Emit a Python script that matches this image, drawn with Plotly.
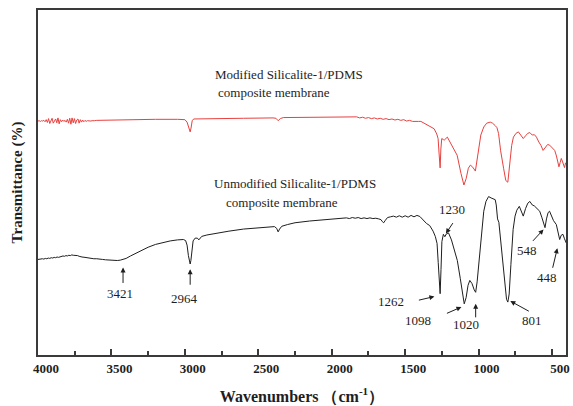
import plotly.graph_objects as go

# FTIR spectra of the two Silicalite-1/PDMS composite membranes
# (wavenumber in cm-1, transmittance in arbitrary offset units)

modified_wn = [
    4000, 3992, 3984, 3976, 3968, 3960, 3952, 3944, 3936, 3928, 3920, 3912, 3904, 3896,
    3888, 3880, 3872, 3864, 3856, 3848, 3840, 3832, 3824, 3816, 3808, 3800, 3792, 3784,
    3776, 3768, 3760, 3752, 3744, 3736, 3728, 3720, 3712, 3704, 3696, 3688, 3680, 3672,
    3664, 3656, 3648, 3640, 3632, 3624, 3616, 3600, 3500, 3400, 3200, 3050, 3000, 2985,
    2975, 2968, 2964, 2958, 2950, 2940, 2900, 2800, 2600, 2400, 2380, 2365, 2350, 2330,
    2200, 2000, 1900, 1850, 1830, 1810, 1790, 1770, 1750, 1730, 1710, 1690, 1670, 1650,
    1630, 1610, 1590, 1570, 1550, 1530, 1510, 1490, 1470, 1450, 1430, 1410, 1393, 1370,
    1340, 1303, 1285, 1276, 1268, 1262, 1257, 1251, 1240, 1235, 1213, 1180, 1146, 1120,
    1100, 1085, 1070, 1056, 1040, 1022, 1005, 985, 965, 945, 921, 905, 887, 875, 864,
    850, 830, 815, 801, 790, 775, 763, 745, 729, 715, 696, 680, 665, 651, 635, 620, 606,
    590, 575, 561, 545, 530, 516, 500, 482, 470, 453, 445, 437, 428, 415, 408, 400,
]
modified_t = [
    68.5, 68.6, 68.4, 68.6, 68.5, 68.7, 68.3, 68.9, 68.1, 69.2, 67.8, 68.7, 69.3, 67.9,
    68.4, 69.1, 68.0, 69.4, 67.7, 68.9, 68.3, 68.8, 68.4, 68.7, 68.2, 69.0, 67.9, 69.3,
    67.6, 69.4, 68.0, 69.2, 67.8, 68.8, 69.1, 67.9, 68.9, 68.2, 68.8, 68.3, 68.7, 68.4,
    68.6, 68.5, 68.6, 68.5, 68.6, 68.5, 68.6, 68.7, 68.8, 68.9, 69.0, 69.0, 68.9, 68.2,
    66.6, 65.6, 65.4, 66.5, 68.6, 69.1, 69.1, 69.2, 69.3, 69.4, 69.3, 68.6, 69.2, 69.5,
    69.5, 69.6, 69.6, 69.5, 69.7, 69.4, 69.6, 69.3, 69.5, 69.2, 69.4, 69.1, 69.3, 69.0,
    69.2, 68.9, 69.1, 68.8, 69.0, 68.7, 68.9, 68.5, 68.7, 68.4, 68.5, 68.4, 68.4, 67.9,
    67.2, 66.3, 64.8, 63.5, 58.5, 55.1, 60.5, 63.5, 63.2, 63.0, 63.9, 61.5, 58.7, 53.5,
    50.2, 52.0, 55.0, 55.9, 55.3, 54.2, 59.0, 64.5, 66.8, 67.9, 68.2, 67.9, 67.2, 66.6, 64.9,
    60.0, 55.0, 51.5, 51.0, 55.5, 61.5, 63.9, 65.0, 65.4, 64.5, 63.5, 64.3, 65.0, 65.2, 64.5, 64.6, 63.9,
    62.5, 61.5, 60.1, 60.9, 61.8, 61.6, 61.0, 60.1, 58.5, 55.4, 56.6, 57.8, 56.8, 55.2, 56.5, 56.4,
]

unmodified_wn = [
    4000, 3990, 3980, 3970, 3960, 3950, 3940, 3930, 3920, 3910, 3900, 3890, 3880, 3870,
    3860, 3850, 3840, 3830, 3820, 3810, 3800, 3790, 3780, 3770, 3760, 3750, 3740, 3730,
    3720, 3710, 3700, 3680, 3660, 3640, 3620, 3600, 3580, 3560, 3540, 3520, 3500, 3480,
    3460, 3440, 3421, 3400, 3370, 3330, 3290, 3250, 3200, 3150, 3100, 3050, 3010, 2995,
    2985, 2976, 2969, 2964, 2959, 2952, 2944, 2930, 2915, 2905, 2897, 2885, 2850, 2800,
    2700, 2600, 2500, 2420, 2390, 2375, 2365, 2355, 2340, 2300, 2250, 2150, 2050, 1950,
    1900, 1880, 1860, 1840, 1820, 1800, 1780, 1760, 1740, 1720, 1700, 1680, 1665, 1655,
    1646, 1635, 1620, 1600, 1580, 1560, 1540, 1520, 1500, 1480, 1460, 1440, 1420, 1400,
    1380, 1355, 1333, 1310, 1295, 1283, 1275, 1268, 1262, 1256, 1250, 1240, 1230, 1220,
    1205, 1185, 1165, 1145, 1125, 1110, 1098, 1085, 1072, 1060, 1045, 1030, 1020, 1010,
    995, 980, 965, 950, 932, 915, 900, 887, 880, 871, 862, 850, 835, 820, 810, 801, 792,
    780, 765, 752, 740, 723, 710, 696, 680, 665, 651, 635, 620, 600, 584, 570, 558, 548,
    538, 527, 517, 505, 490, 471, 460, 448, 438, 426, 415, 404, 400,
]
unmodified_t = [
    28.9, 29.0, 28.9, 29.1, 29.0, 29.2, 29.1, 29.3, 29.2, 29.4, 29.3, 29.5, 29.4, 29.6,
    29.5, 29.7, 29.7, 29.9, 29.8, 30.0, 29.9, 30.1, 30.0, 30.2, 30.1, 30.1, 30.0, 30.0,
    29.8, 29.8, 29.6, 29.5, 29.3, 29.3, 29.1, 29.1, 28.9, 28.9, 28.8, 28.7, 28.7, 28.6,
    28.6, 28.7, 28.9, 29.2, 29.9, 30.8, 31.6, 32.4, 33.2, 33.8, 34.2, 34.5, 34.6, 34.3,
    33.0, 30.0, 27.9, 27.6, 28.6, 31.8, 34.2, 35.0, 35.0, 34.5, 34.9, 35.5, 35.9, 36.3,
    37.0, 37.6, 37.9, 38.2, 38.3, 37.8, 36.8, 37.6, 38.4, 38.9, 39.4, 39.9, 40.3, 40.6,
    40.8, 40.6, 40.9, 40.7, 40.9, 40.6, 40.8, 40.6, 40.8, 40.6, 40.7, 40.5, 40.3, 39.7,
    39.4, 40.1, 40.9, 41.1, 41.3, 41.0, 41.4, 41.0, 41.4, 41.0, 41.5, 41.1, 41.5, 41.2,
    40.3, 39.2, 38.6, 37.0, 35.5, 33.5, 28.0, 21.5, 19.1, 26.0, 34.0, 36.1, 35.4, 36.2,
    36.5, 34.5, 31.5, 28.6, 23.5, 18.5, 16.2, 18.0, 21.5, 22.9, 22.0, 20.2, 19.5, 22.5,
    30.0, 37.5, 42.7, 45.5, 46.9, 46.5, 46.2, 46.0, 44.5, 40.5, 39.5, 34.0, 27.0, 20.5, 17.5, 16.7, 19.0,
    27.5, 37.5, 41.3, 43.0, 44.1, 42.6, 41.3, 43.5, 45.0, 45.5, 44.5, 44.2, 43.5, 42.7, 41.0, 39.0, 38.0,
    40.5, 42.3, 42.7, 41.5, 40.0, 38.9, 36.5, 34.6, 35.8, 36.1, 34.8, 33.7, 34.5,
]

# Band assignments marked on the unmodified spectrum
peak_labels = ["3421", "2964", "1262", "1230", "1098", "1020", "801", "548", "448"]
peak_wn = [3421, 2964, 1262, 1230, 1098, 1020, 801, 548, 448]

SERIF = "Liberation Serif, Times New Roman, serif"
INK = "#1e1e1e"
AXIS = "#3a3a3a"

fig = go.Figure()
fig.add_trace(go.Scatter(x=modified_wn, y=modified_t, mode="lines",
                         line=dict(color="#e8413f", width=1), showlegend=False))
fig.add_trace(go.Scatter(x=unmodified_wn, y=unmodified_t, mode="lines",
                         line=dict(color=INK, width=1), showlegend=False))

# arrow geometry per band: head point (x, y), tail offset (px), label position (x, y)
arrow_geom = {
    "3421": dict(hx=3421, hy=26.6, ax=0, ay=17, tx=3441, ty=19.1),
    "2964": dict(hx=2964, hy=26.1, ax=0, ay=17, tx=3002, ty=17.8),
    "1262": dict(hx=1301, hy=18.3, ax=-17, ay=4, tx=1595, ty=17.0),
    "1230": dict(hx=1223, hy=36.3, ax=8, ay=-12, tx=1178, ty=43.1),
    "1098": dict(hx=1117, hy=15.3, ax=-16, ay=7, tx=1414, ty=11.3),
    "1020": dict(hx=1020, hy=16.2, ax=0, ay=15, tx=1083, ty=10.4),
    "801": dict(hx=784, hy=17.0, ax=20, ay=11, tx=637, ty=11.5),
    "548": dict(hx=558, hy=37.5, ax=-12, ay=13, tx=671, ty=31.4),
    "448": dict(hx=464, hy=32.1, ax=-5, ay=21, tx=531, ty=23.8),
}

annotations = []
for lab, wn in zip(peak_labels, peak_wn):
    g = arrow_geom[lab]
    annotations.append(dict(x=g["hx"], y=g["hy"], xref="x", yref="y", text="",
                            showarrow=True, ax=g["ax"], ay=g["ay"],
                            arrowhead=2, arrowsize=1, arrowwidth=1, arrowcolor=INK,
                            standoff=0, startstandoff=0))
    annotations.append(dict(x=g["tx"], y=g["ty"], xref="x", yref="y", text=lab,
                            showarrow=False, xanchor="center", yanchor="middle",
                            font=dict(family=SERIF, size=13, color=INK)))

# sample names
for txt, x, y in [
    ("Modified Silicalite-1/PDMS", 2806, 81.9),
    ("composite membrane", 2786, 76.7),
    ("Unmodified Silicalite-1/PDMS", 2815, 50.7),
    ("composite membrane", 2732, 45.2),
]:
    annotations.append(dict(x=x, y=y, xref="x", yref="y", text=txt, showarrow=False,
                            xanchor="left", yanchor="middle",
                            font=dict(family=SERIF, size=13, color=INK)))

fig.update_layout(
    width=573, height=406,
    margin=dict(l=37.5, r=3.5, t=10, b=47.5),
    paper_bgcolor="white", plot_bgcolor="white",
    annotations=annotations,
    xaxis=dict(
        range=[4000, 405], tick0=0, dtick=500,
        showgrid=False, zeroline=False,
        showline=True, linecolor=AXIS, linewidth=2, mirror=True,
        ticks="inside", ticklen=6, tickwidth=1.5, tickcolor=AXIS,
        minor=dict(dtick=250, ticks="inside", ticklen=4, tickwidth=1.5, tickcolor=AXIS),
        ticklabelshift=-8,
        tickfont=dict(family=SERIF, size=13, color=INK, weight="bold"),
        title=dict(text="Wavenumbers （cm<sup>-1</sup>）", standoff=16,
                   font=dict(family=SERIF, size=16, color=INK, weight="bold")),
    ),
    yaxis=dict(
        range=[1.56, 100.28],
        showgrid=False, zeroline=False, showticklabels=False, ticks="",
        showline=True, linecolor=AXIS, linewidth=2, mirror=True,
        title=dict(text="Transmittance (%)", standoff=10,
                   font=dict(family=SERIF, size=15, color=INK, weight="bold")),
    ),
)

fig.write_html("out.html")
